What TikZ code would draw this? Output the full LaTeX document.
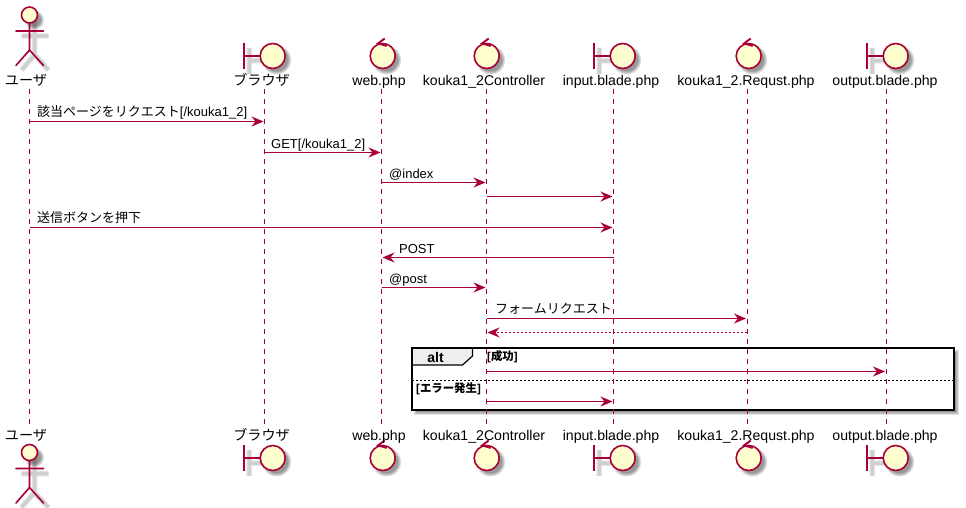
\documentclass[tikz,border=0pt]{standalone}
\usepackage{fontspec}
\setmainfont{Liberation Sans}
\newfontfamily\jp{Noto Sans CJK JP}
\usetikzlibrary{arrows.meta}
\definecolor{pl}{HTML}{A80036}
\definecolor{pf}{HTML}{FEFECE}
\definecolor{tabg}{HTML}{EEEEEE}
\tikzset{
  lifeline/.style={draw=pl,line width=1pt,dash pattern=on 5pt off 5pt},
  msg/.style={draw=pl,line width=1.2pt,shorten >=1pt,-{Stealth[length=12pt,width=10pt,inset=4pt,fill=pl]}},
  rmsg/.style={msg,line width=1.1pt,dash pattern=on 2pt off 2pt},
  msglabel/.style={anchor=base west,inner sep=0pt,font=\fontsize{13}{15}\selectfont,text=black},
  partlabel/.style={anchor=base,inner sep=0pt,font=\fontsize{14.1}{16}\selectfont,text=black},
  headc/.style={circle,draw=pl,fill=pf,line width=1.6pt,minimum size=25pt,inner sep=0pt,outer sep=0pt},
  softc/.style={circle,fill=black,opacity=.12,inner sep=0pt,minimum size=#1},
  figline/.style={draw=pl,line width=1.6pt,line cap=round},
  softl/.style={draw=black,opacity=.05,line width=#1},
  grouplabel/.style={anchor=base west,inner sep=0pt,font=\fontsize{11.4}{13}\selectfont\bfseries,text=black},
}
\newcommand{\softcirc}[2]{% centre, diameter
  \foreach \w in {-3,-1,1,3} \node[softc=#2pt+\w pt] at (#1) {};}
\newcommand{\softline}[1]{%
  \foreach \w in {6,5,4,3} \draw[softl=\w pt] #1;}
\newcommand{\actorfig}[3]{% name, x, head y
  \begin{scope}[shift={(#2,#3)}]
    \softline{(5,5)--(5,40) (-8,21)--(19,21) (5,40)--(-8,55) (5,40)--(19,55)}
    \softcirc{5,5}{16}
    \draw[figline] (0,8)--(0,35) (-13.5,16)--(14,16) (0,35)--(-13.5,50.5) (0,35)--(14,50.5);
    \node[circle,draw=pl,fill=pf,line width=1.6pt,minimum size=16pt,inner sep=0pt] (#1) at (0,0) {};
  \end{scope}}
\newcommand{\boundaryfig}[3]{% name, circle x, y
  \begin{scope}[shift={(#2,#3)}]
    \softline{(-23.5,-8)--(-23.5,18) (-23.5,5)--(-8,5)}
    \softcirc{4,4}{26}
    \draw[figline,line cap=butt] (-28.5,-13)--(-28.5,13) (-28.5,0)--(-12,0);
    \node[headc] (#1) at (0,0) {};
  \end{scope}}
\newcommand{\controlfig}[3]{% name, circle x, y
  \begin{scope}[shift={(#2,#3)}]
    \softcirc{4,4}{26}
    \node[headc] (#1) at (0,0) {};
    \draw[figline,line width=1.9pt,line cap=butt,line join=miter] (2,-17.5)--(-4.5,-12.7)--(4,-10);
  \end{scope}}
\begin{document}
\begin{tikzpicture}[x=1pt,y=-1pt]
\useasboundingbox (0,0) rectangle (966,508);
% lifeline ends
\coordinate (ua) at (29.5,89);    \coordinate (ub) at (29.5,425);
\coordinate (ba) at (264.5,89);   \coordinate (bb) at (264.5,425);
\coordinate (wa) at (381.5,89);   \coordinate (wb) at (381.5,425);
\coordinate (ca) at (486.5,89);   \coordinate (cb) at (486.5,425);
\coordinate (ia) at (613.5,89);   \coordinate (ib) at (613.5,425);
\coordinate (ra) at (747,89);     \coordinate (rb) at (747,425);
\coordinate (oa) at (886,89);     \coordinate (ob) at (886,425);
% group box
\foreach \w in {0,1,2,3} \fill[black,opacity=.12] (414+\w,350+\w) rectangle (959-\w,415-\w);
\fill[white] (412,347.5) rectangle (954,409.5);
\fill[tabg] (412,347.5) -- (472.5,347.5) -- (472.5,356) -- (462.5,365) -- (412,365) -- cycle;
\node[draw=black,line width=2pt,inner sep=0pt,outer sep=0pt,minimum width=542pt,minimum height=62pt,anchor=north west] (grp) at (412,347.5) {};
\draw[black,line width=1.2pt] (472.5,348) -- (472.5,356) -- (462.5,365) -- (412,365);
\node[anchor=base,inner sep=0pt,font=\fontsize{14}{16}\selectfont\bfseries] (alt) at (435.5,362.5) {alt};
\draw[black,line width=1pt,dash pattern=on 2pt off 2pt] (grp.west |- 0,380.5) -- (grp.east |- 0,380.5);
\node[grouplabel] (g1) at (487,360) {[{\jp\bfseries 成功}]};
\node[grouplabel] (g2) at (416,392) {[{\jp\bfseries エラー発生}]};
% lifelines
\foreach \p in {u,b,w,c,i,r,o} \draw[lifeline] (\p a) -- (\p b);
% figures
\actorfig{uh}{29.5}{15}
\boundaryfig{bh}{272.7}{56}
\controlfig{wh}{382.7}{56}
\controlfig{ch}{486.7}{56}
\boundaryfig{ih}{622.7}{56}
\controlfig{rh}{748.7}{56}
\boundaryfig{oh}{895.7}{56}
\actorfig{uf}{29.5}{452.5}
\boundaryfig{bf}{272.7}{458}
\controlfig{wf}{382.7}{458}
\controlfig{cf}{486.7}{458}
\boundaryfig{if}{622.7}{458}
\controlfig{rf}{748.7}{458}
\boundaryfig{of}{895.7}{458}
% participant labels
\node[partlabel] (ut) at (26,86) {\jp ユーザ};
\node[partlabel] (bt) at (261.5,86) {\jp ブラウザ};
\node[partlabel] (wt) at (379,86) {web.php};
\node[partlabel] (ct) at (484,86) {kouka1\_2Controller};
\node[partlabel] (it) at (611,86) {input.blade.php};
\node[partlabel] (rt) at (746,86) {kouka1\_2.Requst.php};
\node[partlabel] (ot) at (885,86) {output.blade.php};
\node[partlabel] (ut2) at (26,440) {\jp ユーザ};
\node[partlabel] (bt2) at (261.5,440) {\jp ブラウザ};
\node[partlabel] (wt2) at (379,440) {web.php};
\node[partlabel] (ct2) at (484,440) {kouka1\_2Controller};
\node[partlabel] (it2) at (611,440) {input.blade.php};
\node[partlabel] (rt2) at (746,440) {kouka1\_2.Requst.php};
\node[partlabel] (ot2) at (885,440) {output.blade.php};
% messages
\draw[msg] (ua |- 0,121.5) -- (ba |- 0,121.5);
\node[msglabel] (m1) at (37,117) {{\jp 該当ページをリクエスト}[/kouka1\_2]};
\draw[msg] (ba |- 0,152.5) -- (wa |- 0,152.5);
\node[msglabel] (m2) at (271,148) {GET[/kouka1\_2]};
\draw[msg] (wa |- 0,182.5) -- (ca |- 0,182.5);
\node[msglabel] (m3) at (389,178) {@index};
\draw[msg] (ca |- 0,196.5) -- (ia |- 0,196.5);
\draw[msg] (ua |- 0,227.5) -- (ia |- 0,227.5);
\node[msglabel] (m5) at (37,222) {\jp 送信ボタンを押下};
\draw[msg] (ia |- 0,257.5) -- (wa |- 0,257.5);
\node[msglabel] (m6) at (399,253) {POST};
\draw[msg] (wa |- 0,287.5) -- (ca |- 0,287.5);
\node[msglabel] (m7) at (389,283) {@post};
\draw[msg] (ca |- 0,318.5) -- (ra |- 0,318.5);
\node[msglabel] (m8) at (495,313) {\jp フォームリクエスト};
\draw[rmsg] (ra |- 0,332.5) -- (ca |- 0,332.5);
\draw[msg] (ca |- 0,371.5) -- (oa |- 0,371.5);
\draw[msg] (ca |- 0,401.5) -- (ia |- 0,401.5);
\end{tikzpicture}
\end{document}
